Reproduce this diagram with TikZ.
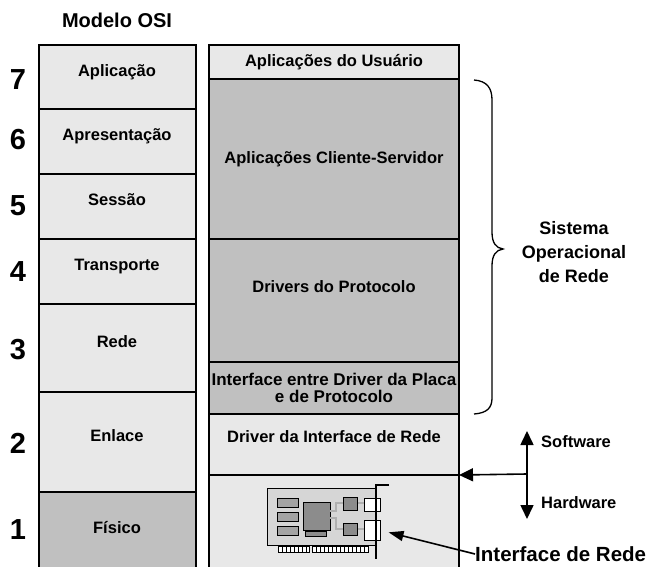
\documentclass[tikz,border=0pt]{standalone}
\usepackage{fontspec}
\setmainfont{Liberation Sans}
\usetikzlibrary{arrows.meta}
\definecolor{layerlight}{HTML}{E8E8E8}
\definecolor{layerdark}{HTML}{C0C0C0}
\definecolor{boardgray}{HTML}{D6D6D6}
\definecolor{chipgray}{HTML}{A4A4A4}
\definecolor{cpugray}{HTML}{8C8C8C}
\definecolor{tracegray}{HTML}{B0B0B0}
\tikzset{
  layerbox/.style={draw, line width=1.3pt, anchor=north west, inner sep=0pt, outer sep=0pt},
  lbl/.style={font=\bfseries\fontsize{16.5}{18}\selectfont, inner sep=0pt, align=center},
  num/.style={font=\bfseries\fontsize{29}{30}\selectfont, inner sep=0pt},
  bigl/.style={font=\bfseries\fontsize{18}{24}\selectfont, inner sep=0pt, align=center},
  fat/.style={line width=1.6pt, -{Triangle[length=14pt,width=13pt]}},
  part/.style={draw, line width=0.8pt},
  trace/.style={draw=black, line width=0.4pt, double=tracegray, double distance=1.6pt}
}
\begin{document}
\begin{tikzpicture}[x=1pt,y=-1pt]
\useasboundingbox (0,0) rectangle (648,567);
\clip (0,0) rectangle (648,567);

% OSI reference model column
\node[bigl, font=\bfseries\fontsize{20}{24}\selectfont] (title) at (117,20) {Modelo OSI};
\node[layerbox, fill=layerlight, minimum width=157pt, minimum height=64pt] (l7) at (39,45) {};
\node[layerbox, fill=layerlight, minimum width=157pt, minimum height=65pt] (l6) at (39,109) {};
\node[layerbox, fill=layerlight, minimum width=157pt, minimum height=65pt] (l5) at (39,174) {};
\node[layerbox, fill=layerlight, minimum width=157pt, minimum height=65pt] (l4) at (39,239) {};
\node[layerbox, fill=layerlight, minimum width=157pt, minimum height=88pt] (l3) at (39,304) {};
\node[layerbox, fill=layerlight, minimum width=157pt, minimum height=100pt] (l2) at (39,392) {};
\node[layerbox, fill=layerdark, minimum width=157pt, minimum height=90pt] (l1) at (39,492) {};

\node[lbl] (t7) at (117,72) {Aplicação};
\node[lbl] (t6) at (117,136) {Apresentação};
\node[lbl] (t5) at (117,200) {Sessão};
\node[lbl] (t4) at (117,267) {Transporte};
\node[lbl] (t3) at (117,342) {Rede};
\node[lbl] (t2) at (117,436) {Enlace};
\node[lbl] (t1) at (117,528) {Físico};

\node[num] (n7) at (18,80) {7};
\node[num] (n6) at (18,140) {6};
\node[num] (n5) at (18,206) {5};
\node[num] (n4) at (18,272) {4};
\node[num] (n3) at (18,350) {3};
\node[num] (n2) at (18,443) {2};
\node[num] (n1) at (18,530) {1};

% Network operating system column
\node[layerbox, fill=layerlight, minimum width=250pt, minimum height=34pt] (usr) at (209,45) {};
\node[layerbox, fill=layerdark, minimum width=250pt, minimum height=160pt] (cs) at (209,79) {};
\node[layerbox, fill=layerdark, minimum width=250pt, minimum height=123pt] (prot) at (209,239) {};
\node[layerbox, fill=layerdark, minimum width=250pt, minimum height=52pt] (ifc) at (209,362) {};
\node[layerbox, fill=layerlight, minimum width=250pt, minimum height=61pt] (drv) at (209,414) {};
\node[layerbox, fill=layerlight, minimum width=250pt, minimum height=110pt] (hw) at (209,475) {};

\node[lbl] at (334,62) {Aplicações do Usuário};
\node[lbl] at (334,159) {Aplicações Cliente-Servidor};
\node[lbl] at (334,287) {Drivers do Protocolo};
\node[lbl, font=\bfseries\fontsize{17}{17.5}\selectfont] at (334,388) {Interface entre Driver da Placa\\e de Protocolo};
\node[lbl] at (334,437) {Driver da Interface de Rede};

% brace around the software layers
\draw[line width=1.3pt] (474,80) .. controls (487,81) and (492,88) .. (492,100)
  -- (492,232) .. controls (492,243) and (496,248) .. (503,249)
  .. controls (496,250) and (492,255) .. (492,266)
  -- (492,398) .. controls (492,408) and (487,413) .. (474,414);
\node[bigl] (nos) at (574,252) {Sistema\\Operacional\\de Rede};

% software / hardware boundary
\coordinate (sw) at (527,474);
\coordinate (swtop) at (527,431);
\coordinate (hwbot) at (527,519);
\draw[fat] (sw) -- (swtop);
\draw[fat] (sw) -- (hwbot);
\draw[fat] (sw) -- (drv.south east);
\node[lbl, anchor=west] (swl) at (541,442) {Software};
\node[lbl, anchor=west] (hwl) at (541,503) {Hardware};

% network interface card
\fill[boardgray] (267,488) rectangle (376,545);
\draw[line width=0.8pt] (376,488) -- (267,488) -- (267,545) -- (376,545);
\draw[part, fill=chipgray] (277,498) rectangle (298,507);
\draw[part, fill=chipgray] (277,512) rectangle (298,521);
\draw[part, fill=chipgray] (277,526) rectangle (298,535);
\draw[part, fill=cpugray] (303,502) rectangle (330,530);
\draw[part, fill=cpugray] (305,531) rectangle (326,536);
\draw[trace] (330,511) -- (336,511) -- (336,503) -- (343,503);
\draw[trace] (330,518) -- (336,518) -- (336,529) -- (343,529);
\draw[trace] (357,503) -- (364,503);
\draw[trace] (357,529) -- (364,529);
\draw[part, fill=cpugray] (343,497) rectangle (357,510);
\draw[part, fill=cpugray] (343,523) rectangle (357,535);
\draw[part, fill=white] (364,498) rectangle (380,511);
\node[part, fill=white, anchor=north west, inner sep=0pt, minimum width=16pt, minimum height=20pt] (port) at (364,520) {};
\draw[part, fill=white] (278,546) rectangle (309,552);
\draw[part, fill=white] (312,546) rectangle (368,552);
\foreach \x in {282,286,...,306} \draw[line width=0.5pt] (\x,546) -- (\x,552);
\foreach \x in {316,320,...,364} \draw[line width=0.5pt] (\x,546) -- (\x,552);
\draw[line width=1.5pt] (389,485) -- (376,485) -- (376,559);

\node[font=\bfseries\fontsize{20.5}{24}\selectfont, inner sep=0pt, anchor=west] (nic) at (475,554) {Interface de Rede};
\draw[line width=1.6pt, -{Triangle[length=15pt,width=10pt]}, shorten >=8pt] (nic.west) -- (port.east);
\end{tikzpicture}
\end{document}
